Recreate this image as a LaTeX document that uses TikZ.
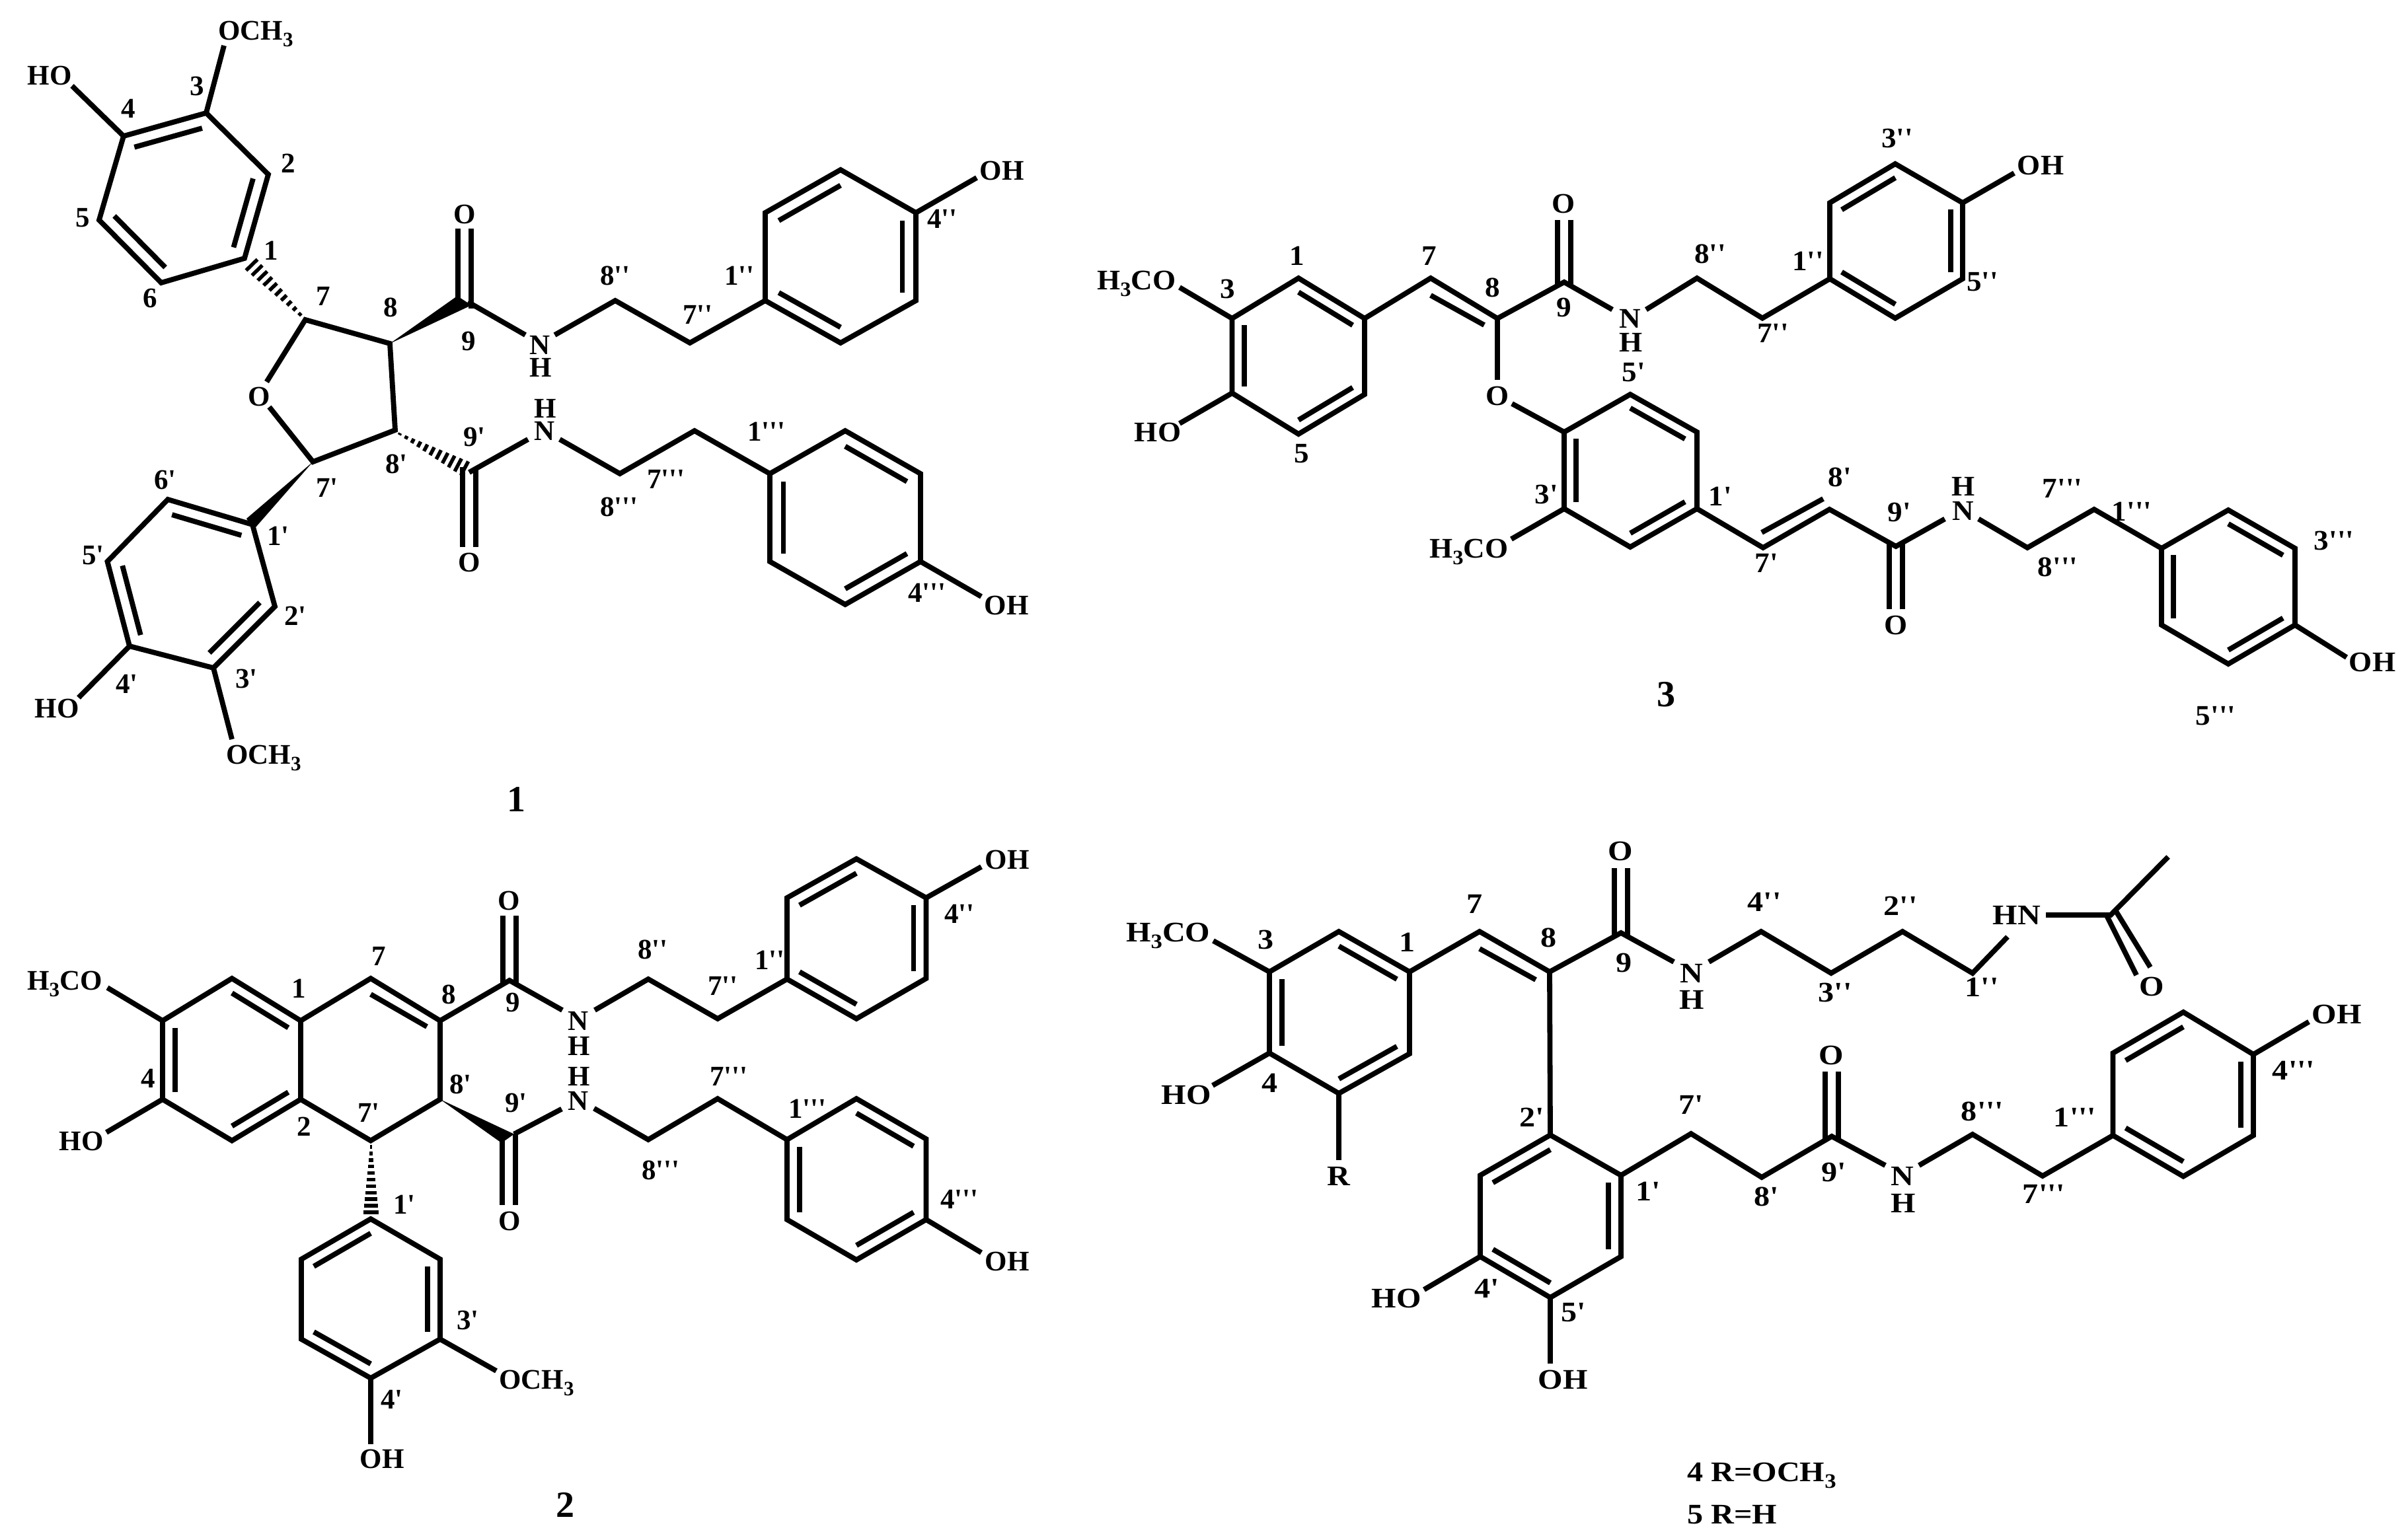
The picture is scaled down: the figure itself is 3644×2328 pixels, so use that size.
\documentclass[tikz,border=0pt]{standalone}
\usepackage{fontspec}
\usepackage{tikz}
\usetikzlibrary{calc}
\newfontfamily\chemfont{Liberation Serif}
\newfontfamily\chemfontc{Liberation Serif}[FakeStretch=1.05]
\newfontfamily\chemfontd{Liberation Serif}[FakeStretch=1.12]
\newcommand{\subthree}{\raisebox{-10pt}{\fontsize{31}{31}\selectfont 3}}
\newcommand{\hashbond}[3]{%
  \foreach \hpos in {0,0.1,...,1.01}{%
    \pgfmathsetmacro{\hw}{1.5+(#3-1.5)*\hpos}
    \draw[line width=5.5pt] ($(#1)!\hpos!(#2)!\hw pt!90:(#2)$) -- ($(#1)!\hpos!(#2)!\hw pt!-90:(#2)$);
  }}
\begin{document}
\begin{tikzpicture}[
  x=1pt, y=-1pt,
  every node/.style={font=\chemfont\bfseries\fontsize{43}{43}\selectfont, text height=29pt, text depth=0pt, inner sep=0pt},
  bond/.style={line width=7.8pt},
  cobond/.style={line width=7.8pt, double, double distance=12pt, shorten <=-8pt},
  cpdno/.style={font=\chemfont\bfseries\fontsize{56}{56}\selectfont, text height=38pt}
]
\useasboundingbox (0,0) rectangle (3644,2328);

% compound 1
\coordinate (A1) at (370,391);
\coordinate (A2) at (406,264);
\coordinate (A3) at (312,171);
\coordinate (A4) at (187,206);
\coordinate (A5) at (150,333);
\coordinate (A6) at (244,428);
\coordinate (Ac) at (278,299);
\coordinate (A3e) at (339,69);
\coordinate (A4e) at (109,130);
\coordinate (A7) at (462,484);
\coordinate (A8) at (590,520);
\coordinate (A9) at (703,459);
\coordinate (A9o) at (703,346);
\coordinate (A9a) at (692,448);
\coordinate (A9b) at (713.5,462);
\coordinate (A9n) at (708,457);
\coordinate (Ahs) at (381,401);
\coordinate (Anl) at (795,507);
\coordinate (Anr) at (839.5,507);
\coordinate (A8pp) at (931,455);
\coordinate (A7pp) at (1044,519);
\coordinate (A1pp) at (1158,455);
\coordinate (A2pp) at (1158,322);
\coordinate (A3pp) at (1272,257);
\coordinate (A4pp) at (1386,322);
\coordinate (A5pp) at (1386,455);
\coordinate (A6pp) at (1272,519);
\coordinate (Acpp) at (1272,388);
\coordinate (A4ppe) at (1478,269);
\coordinate (Aoa) at (403.5,578);
\coordinate (Aob) at (407.5,616);
\coordinate (A7p) at (473.6,699);
\coordinate (A8p) at (598,651);
\coordinate (A1p) at (382,794);
\coordinate (A1pa) at (373,785);
\coordinate (A1pb) at (383.5,802);
\coordinate (A2p) at (416,918);
\coordinate (A3p) at (323,1011);
\coordinate (A4p) at (196,978);
\coordinate (A5p) at (162.5,850);
\coordinate (A6p) at (254,756);
\coordinate (Acp) at (289,884.5);
\coordinate (A3pe) at (351,1119);
\coordinate (A4pe) at (119,1056);
\coordinate (A9p) at (710,715);
\coordinate (A9po) at (710,828);
\coordinate (Ahp) at (605,657);
\coordinate (Aqp) at (703,709);
\coordinate (Anlp) at (799,665);
\coordinate (Anrp) at (847,665);
\coordinate (A8t) at (938,717);
\coordinate (A7t) at (1051,652);
\coordinate (A1t) at (1165,717);
\coordinate (A2t) at (1279,652);
\coordinate (A3t) at (1393,717);
\coordinate (A4t) at (1393,850);
\coordinate (A5t) at (1279,915);
\coordinate (A6t) at (1165,850);
\coordinate (Act) at (1279,783);
\coordinate (A4te) at (1485,903);

\draw[cobond] (A9) -- (A9o);
\draw[cobond] (A9p) -- (A9po);
\draw[bond] (A1) -- (A2) -- (A3) -- (A4) -- (A5) -- (A6) -- cycle;
\draw[bond] (A3) -- (A3e);
\draw[bond] (A4) -- (A4e);
\foreach \p/\q in {A4/A3,A2/A1,A5/A6} \draw[bond] ($(\p)!.18!(Ac)$) -- ($(\q)!.18!(Ac)$);
\hashbond{A7}{Ahs}{12}
\draw[bond] (Aoa) -- (A7) -- (A8) -- (A8p) -- (A7p) -- (Aob);
\fill (A8) -- (A9a) -- (A9b) -- cycle;
\draw[bond] (A9n) -- (Anl);
\draw[bond] (Anr) -- (A8pp) -- (A7pp) -- (A1pp);
\draw[bond] (A1pp) -- (A2pp) -- (A3pp) -- (A4pp) -- (A5pp) -- (A6pp) -- cycle;
\draw[bond] (A4pp) -- (A4ppe);
\foreach \p/\q in {A2pp/A3pp,A4pp/A5pp,A1pp/A6pp} \draw[bond] ($(\p)!.18!(Acpp)$) -- ($(\q)!.18!(Acpp)$);
\fill (A7p) -- (A1pa) -- (A1pb) -- cycle;
\draw[bond] (A1p) -- (A2p) -- (A3p) -- (A4p) -- (A5p) -- (A6p) -- cycle;
\draw[bond] (A3p) -- (A3pe);
\draw[bond] (A4p) -- (A4pe);
\foreach \p/\q in {A6p/A1p,A5p/A4p,A2p/A3p} \draw[bond] ($(\p)!.18!(Acp)$) -- ($(\q)!.18!(Acp)$);
\hashbond{Ahp}{Aqp}{12}
\draw[bond] (A9p) -- (Anlp);
\draw[bond] (Anrp) -- (A8t) -- (A7t) -- (A1t);
\draw[bond] (A1t) -- (A2t) -- (A3t) -- (A4t) -- (A5t) -- (A6t) -- cycle;
\draw[bond] (A4t) -- (A4te);
\foreach \p/\q in {A2t/A3t,A1t/A6t,A4t/A5t} \draw[bond] ($(\p)!.18!(Act)$) -- ($(\q)!.18!(Act)$);

\node (Alb3) at (298,130) {3};
\node (Alb4) at (194,164) {4};
\node (Alb2) at (436,247) {2};
\node (Alb1) at (410,379) {1};
\node (Alb5) at (125,329) {5};
\node (Alb6) at (227,451) {6};
\node (Alb7) at (489,448) {7};
\node (Alb8) at (591,465) {8};
\node (Alb9) at (709,516) {9};
\node (Aome) [anchor=west] at (330,46) {OCH\subthree};
\node (Ahoa) at (75,114) {HO};
\node (Aoa1) at (703,324) {O};
\node (Ana) at (817,522) {N};
\node (Aha) at (818,556) {H};
\node (Alb8pp) at (931,417) {8''};
\node (Alb7pp) at (1056,476) {7''};
\node (Alb1pp) at (1119,417) {1''};
\node (Alb4pp) at (1426,331) {4''};
\node (Aoha) at (1516,258) {OH};
\node (Aring) at (392,600) {O};
\node (Alb6p) at (250,726) {6'};
\node (Alb5p) at (141,840) {5'};
\node (Alb1p) at (421,811) {1'};
\node (Alb7p) at (495,738) {7'};
\node (Alb8p) at (600,702) {8'};
\node (Alb9p) at (718,661) {9'};
\node (Alb2p) at (447,932) {2'};
\node (Alb3p) at (373,1027) {3'};
\node (Alb4p) at (192,1035) {4'};
\node (Ahob) at (86,1072) {HO};
\node (Aomb) [anchor=west] at (342,1142) {OCH\subthree};
\node (Ahb) at (825,618) {H};
\node (Anb) at (824,652) {N};
\node (Aob1) at (710,851) {O};
\node (Alb8t) at (937,767) {8'''};
\node (Alb7t) at (1008,725) {7'''};
\node (Alb1t) at (1160,653) {1'''};
\node (Alb4t) at (1403,897) {4'''};
\node (Aohb) at (1523,916) {OH};
\node[cpdno] (Ano) at (781,1209) {1};

% compound 2
\coordinate (Ba) at (246,1545);
\coordinate (Bb) at (351,1481);
\coordinate (Bd) at (455,1545);
\coordinate (Be) at (455,1664);
\coordinate (Bf) at (351,1726.5);
\coordinate (Bg) at (246,1664);
\coordinate (Bc) at (351,1604);
\coordinate (Bae) at (162.5,1495);
\coordinate (Bge) at (161,1714);
\coordinate (B7) at (561,1481);
\coordinate (B8) at (666,1545);
\coordinate (B8p) at (666,1664);
\coordinate (B7p) at (561,1726.5);
\coordinate (B7i) at (561,1505);
\coordinate (B8i) at (646,1554);
\coordinate (B9) at (771,1484);
\coordinate (B9o) at (771,1386);
\coordinate (Bnl) at (851,1529);
\coordinate (Bnr) at (900,1529);
\coordinate (B8pp) at (981,1482);
\coordinate (B7pp) at (1086,1542);
\coordinate (B1pp) at (1191,1482);
\coordinate (B2pp) at (1191,1359);
\coordinate (B3pp) at (1296,1300);
\coordinate (B4pp) at (1401.5,1359);
\coordinate (B5pp) at (1401.5,1481);
\coordinate (B6pp) at (1296,1542);
\coordinate (Bcpp) at (1296,1421);
\coordinate (B4ppe) at (1485,1312);
\coordinate (B9p) at (770,1724);
\coordinate (B9po) at (770,1824);
\coordinate (B9a) at (759,1730);
\coordinate (B9b) at (778,1716.6);
\coordinate (Bnlp) at (850,1678.6);
\coordinate (Bnrp) at (899,1677.7);
\coordinate (B8t) at (981,1725);
\coordinate (B7t) at (1086,1663);
\coordinate (B1t) at (1191,1725);
\coordinate (B2t) at (1296,1663);
\coordinate (B3t) at (1401.5,1724);
\coordinate (B4t) at (1401.5,1846);
\coordinate (B5t) at (1296,1907);
\coordinate (B6t) at (1191,1846);
\coordinate (Bct) at (1296,1785);
\coordinate (B4te) at (1485,1896);
\coordinate (Bhs) at (561,1736);
\coordinate (Bhe) at (561,1835);
\coordinate (B1p) at (561,1845);
\coordinate (B2p) at (666,1906);
\coordinate (B3p) at (666,2027);
\coordinate (B4p) at (561,2086);
\coordinate (B5p) at (456,2027);
\coordinate (B6p) at (456,1906);
\coordinate (Bcp) at (561,1966);
\coordinate (B3pe) at (751,2075);
\coordinate (B4pe) at (561,2186);

\draw[cobond] (B9) -- (B9o);
\draw[cobond] (B9p) -- (B9po);
\draw[bond] (Ba) -- (Bb) -- (Bd) -- (Be) -- (Bf) -- (Bg) -- cycle;
\draw[bond] (Ba) -- (Bae);
\draw[bond] (Bg) -- (Bge);
\foreach \p/\q in {Bb/Bd,Ba/Bg,Be/Bf} \draw[bond] ($(\p)!.18!(Bc)$) -- ($(\q)!.18!(Bc)$);
\draw[bond] (Bd) -- (B7) -- (B8) -- (B8p) -- (B7p) -- (Be);
\draw[bond] (B7i) -- (B8i);
\draw[bond] (B8) -- (B9) -- (Bnl);
\draw[bond] (Bnr) -- (B8pp) -- (B7pp) -- (B1pp);
\draw[bond] (B1pp) -- (B2pp) -- (B3pp) -- (B4pp) -- (B5pp) -- (B6pp) -- cycle;
\draw[bond] (B4pp) -- (B4ppe);
\foreach \p/\q in {B2pp/B3pp,B4pp/B5pp,B1pp/B6pp} \draw[bond] ($(\p)!.18!(Bcpp)$) -- ($(\q)!.18!(Bcpp)$);
\fill (B8p) -- (B9a) -- (B9b) -- cycle;
\draw[bond] (B9b) -- (Bnlp);
\draw[bond] (Bnrp) -- (B8t) -- (B7t) -- (B1t);
\draw[bond] (B1t) -- (B2t) -- (B3t) -- (B4t) -- (B5t) -- (B6t) -- cycle;
\draw[bond] (B4t) -- (B4te);
\foreach \p/\q in {B2t/B3t,B1t/B6t,B4t/B5t} \draw[bond] ($(\p)!.18!(Bct)$) -- ($(\q)!.18!(Bct)$);
\hashbond{Bhs}{Bhe}{11.5}
\draw[bond] (B1p) -- (B2p) -- (B3p) -- (B4p) -- (B5p) -- (B6p) -- cycle;
\draw[bond] (B3p) -- (B3pe);
\draw[bond] (B4p) -- (B4pe);
\foreach \p/\q in {B1p/B6p,B2p/B3p,B4p/B5p} \draw[bond] ($(\p)!.18!(Bcp)$) -- ($(\q)!.18!(Bcp)$);

\node (Bome) [anchor=west] at (41,1484) {H\subthree CO};
\node (Bhoa) at (123,1727) {HO};
\node (Blb1) at (452,1496) {1};
\node (Blb2) at (460,1705) {2};
\node (Blb4) at (224,1632) {4};
\node (Blb7) at (573,1447) {7};
\node (Blb8) at (679,1505) {8};
\node (Blb9) at (776,1517) {9};
\node (Blb8p) at (697,1641) {8'};
\node (Blb9p) at (781,1669) {9'};
\node (Blb7p) at (558,1684) {7'};
\node (Blb1p) at (612,1823) {1'};
\node (Blb3p) at (708,1998) {3'};
\node (Blb4p) at (593,2118) {4'};
\node (Boa) at (770,1363) {O};
\node (Boc) at (771,1848) {O};
\node (Bna) at (875,1545) {N};
\node (Bha) at (876,1583) {H};
\node (Bhb) at (876,1629) {H};
\node (Bnb) at (875,1666) {N};
\node (Blb8pp) at (988,1437) {8''};
\node (Blb7pp) at (1094,1492) {7''};
\node (Blb1pp) at (1165,1453) {1''};
\node (Blb4pp) at (1452,1383) {4''};
\node (Boha) at (1524,1301) {OH};
\node (Blb7t) at (1103,1629) {7'''};
\node (Blb1t) at (1222,1678) {1'''};
\node (Blb8t) at (1000,1771) {8'''};
\node (Blb4t) at (1452,1815) {4'''};
\node (Bohb) at (1524,1909) {OH};
\node (Bomb) [anchor=west] at (755,2088) {OCH\subthree};
\node (Bohc) at (578,2208) {OH};
\node[cpdno] (Bno) at (855,2277) {2};

% compound 3
\coordinate (C1) at (1965,421);
\coordinate (C2) at (2065,482);
\coordinate (C5a) at (2065,597);
\coordinate (C6) at (1965,657);
\coordinate (C4) at (1864.5,595);
\coordinate (C3) at (1864.5,482);
\coordinate (Cc) at (1965,539);
\coordinate (C3e) at (1785,435);
\coordinate (C4e) at (1785,641);
\coordinate (C7) at (2165,421);
\coordinate (C8) at (2266,482);
\coordinate (C7i) at (2165,447);
\coordinate (C8i) at (2246,492);
\coordinate (C9) at (2367,427);
\coordinate (C9o) at (2367,333);
\coordinate (Cnl) at (2440,468.6);
\coordinate (Cnr) at (2491,468.6);
\coordinate (C8pp) at (2568,421);
\coordinate (C7pp) at (2667,481.6);
\coordinate (C1pp) at (2769,422);
\coordinate (C2pp) at (2769,307);
\coordinate (C3pp) at (2868,248);
\coordinate (C4pp) at (2970,307);
\coordinate (C5pp) at (2970,422);
\coordinate (C6pp) at (2868,481.6);
\coordinate (Ccpp) at (2869,365);
\coordinate (C4ppe) at (3048,262);
\coordinate (C8e) at (2266,575);
\coordinate (Coe) at (2288,611);
\coordinate (C4p) at (2367,654);
\coordinate (C5p) at (2467,597);
\coordinate (C6p) at (2568,654);
\coordinate (C1p) at (2568,770);
\coordinate (C2p) at (2467,828);
\coordinate (C3p) at (2367,770);
\coordinate (Ccp) at (2467.5,712);
\coordinate (C3pe) at (2287,816);
\coordinate (C7p) at (2668,829);
\coordinate (C8p) at (2768.5,771);
\coordinate (C7pi) at (2666,806);
\coordinate (C8pi) at (2759,755);
\coordinate (C9p) at (2869,827);
\coordinate (C9po) at (2869,922);
\coordinate (Cnlp) at (2943,785.5);
\coordinate (Cnrp) at (2994,785.5);
\coordinate (C8t) at (3068,829);
\coordinate (C7t) at (3169,771);
\coordinate (C1t) at (3271,830);
\coordinate (C2t) at (3372,772);
\coordinate (C3t) at (3473,830);
\coordinate (C4t) at (3473,946);
\coordinate (C5t) at (3372,1005);
\coordinate (C6t) at (3271,946);
\coordinate (Cct) at (3372,888);
\coordinate (C4te) at (3551,995);

\draw[cobond] (C9) -- (C9o);
\draw[cobond] (C9p) -- (C9po);
\draw[bond] (C1) -- (C2) -- (C5a) -- (C6) -- (C4) -- (C3) -- cycle;
\draw[bond] (C3) -- (C3e);
\draw[bond] (C4) -- (C4e);
\foreach \p/\q in {C1/C2,C3/C4,C5a/C6} \draw[bond] ($(\p)!.18!(Cc)$) -- ($(\q)!.18!(Cc)$);
\draw[bond] (C2) -- (C7) -- (C8) -- (C9) -- (Cnl);
\draw[bond] (C7i) -- (C8i);
\draw[bond] (C8) -- (C8e);
\draw[bond] (Cnr) -- (C8pp) -- (C7pp) -- (C1pp);
\draw[bond] (C1pp) -- (C2pp) -- (C3pp) -- (C4pp) -- (C5pp) -- (C6pp) -- cycle;
\draw[bond] (C4pp) -- (C4ppe);
\foreach \p/\q in {C2pp/C3pp,C4pp/C5pp,C1pp/C6pp} \draw[bond] ($(\p)!.18!(Ccpp)$) -- ($(\q)!.18!(Ccpp)$);
\draw[bond] (Coe) -- (C4p);
\draw[bond] (C4p) -- (C5p) -- (C6p) -- (C1p) -- (C2p) -- (C3p) -- cycle;
\draw[bond] (C3p) -- (C3pe);
\foreach \p/\q in {C5p/C6p,C4p/C3p,C1p/C2p} \draw[bond] ($(\p)!.18!(Ccp)$) -- ($(\q)!.18!(Ccp)$);
\draw[bond] (C1p) -- (C7p) -- (C8p) -- (C9p) -- (Cnlp);
\draw[bond] (C7pi) -- (C8pi);
\draw[bond] (Cnrp) -- (C8t) -- (C7t) -- (C1t);
\draw[bond] (C1t) -- (C2t) -- (C3t) -- (C4t) -- (C5t) -- (C6t) -- cycle;
\draw[bond] (C4t) -- (C4te);
\foreach \p/\q in {C2t/C3t,C1t/C6t,C4t/C5t} \draw[bond] ($(\p)!.18!(Cct)$) -- ($(\q)!.18!(Cct)$);

\begin{scope}[every node/.append style={font=\chemfontc\bfseries\fontsize{43}{43}\selectfont}]
\node (Come) [anchor=west] at (1660,424) {H\subthree CO};
\node (Choa) at (1752,654) {HO};
\node (Clb1) at (1963,387) {1};
\node (Clb3) at (1858,437) {3};
\node (Clb5) at (1970,686) {5};
\node (Clb7) at (2163,387) {7};
\node (Clb8) at (2259,435) {8};
\node (Clb9) at (2367,465) {9};
\node (Coa) at (2366,308) {O};
\node (Cna) at (2467,482) {N};
\node (Cha) at (2468,518) {H};
\node (Clb8pp) at (2588,384) {8''};
\node (Clb7pp) at (2683,504) {7''};
\node (Clb1pp) at (2736,395) {1''};
\node (Clb3pp) at (2871,209) {3''};
\node (Clb5pp) at (3000,426) {5''};
\node (Coha) at (3088,250) {OH};
\node (Clb5p) at (2472,563) {5'};
\node (Coc) at (2266,599) {O};
\node (Clb3p) at (2340,748) {3'};
\node (Clb1p) at (2603,751) {1'};
\node (Clb8p) at (2784,722) {8'};
\node (Clb7p) at (2673,852) {7'};
\node (Clb9p) at (2874,775) {9'};
\node (Comb) [anchor=west] at (2163,830) {H\subthree CO};
\node (Cob) at (2869,946) {O};
\node (Chb) at (2971,736) {H};
\node (Cnb) at (2971,773) {N};
\node (Clb7t) at (3121,739) {7'''};
\node (Clb8t) at (3114,858) {8'''};
\node (Clb1t) at (3226,774) {1'''};
\node (Clb3t) at (3532,818) {3'''};
\node (Clb5t) at (3353,1083) {5'''};
\node (Cohb) at (3590,1002) {OH};
\node[cpdno] (Cno) at (2521,1050) {3};
\end{scope}

% compound 4, 5
\coordinate (D3) at (1921,1471);
\coordinate (D2) at (2026,1410);
\coordinate (D1) at (2133,1471);
\coordinate (D6) at (2133,1595);
\coordinate (D5) at (2026,1655);
\coordinate (D4) at (1921,1594);
\coordinate (Dc) at (2027,1533);
\coordinate (D3e) at (1836,1424);
\coordinate (D4e) at (1835,1643);
\coordinate (D5e) at (2026,1756);
\coordinate (D7) at (2239,1410);
\coordinate (D8) at (2345,1471);
\coordinate (D7i) at (2239,1436);
\coordinate (D8i) at (2324,1483);
\coordinate (D9) at (2453,1412);
\coordinate (D9o) at (2453,1314);
\coordinate (Dnl) at (2533,1456);
\coordinate (Dnr) at (2586,1456);
\coordinate (D4pp) at (2665,1410);
\coordinate (D3pp) at (2771,1473);
\coordinate (D2pp) at (2879,1410);
\coordinate (D1pp) at (2985,1473);
\coordinate (Dhne) at (3038,1418);
\coordinate (Dhnr) at (3096,1385);
\coordinate (Dac) at (3194,1385);
\coordinate (Dme) at (3281,1297);
\coordinate (Ddl) at (3188,1386);
\coordinate (Ddm) at (3233,1476);
\coordinate (Ddr) at (3202.5,1380);
\coordinate (Dds) at (3254,1464);
\coordinate (D2p) at (2346,1718);
\coordinate (D1p) at (2453,1779);
\coordinate (D6p) at (2453,1902);
\coordinate (D5p) at (2346,1964);
\coordinate (D4p) at (2240,1902);
\coordinate (D3p) at (2240,1779);
\coordinate (Dcp) at (2346.5,1841);
\coordinate (D4pe) at (2155,1952);
\coordinate (D5pe) at (2346,2064);
\coordinate (D7p) at (2559,1716);
\coordinate (D8p) at (2666,1782);
\coordinate (D9p) at (2772,1720);
\coordinate (D9po) at (2772,1622);
\coordinate (Dnlp) at (2853,1764);
\coordinate (Dnrp) at (2904,1764);
\coordinate (D8t) at (2985,1717);
\coordinate (D7t) at (3091,1780);
\coordinate (D1t) at (3197.5,1718.6);
\coordinate (D2t) at (3197.5,1594);
\coordinate (D3t) at (3304,1532);
\coordinate (D4t) at (3410,1596);
\coordinate (D5t) at (3410,1718.6);
\coordinate (D6t) at (3304,1780.6);
\coordinate (Dct) at (3304,1656);
\coordinate (D4te) at (3494,1546.6);

\draw[cobond] (D9) -- (D9o);
\draw[cobond] (D9p) -- (D9po);
\draw[bond] (D1) -- (D2) -- (D3) -- (D4) -- (D5) -- (D6) -- cycle;
\draw[bond] (D3) -- (D3e);
\draw[bond] (D4) -- (D4e);
\draw[bond] (D5) -- (D5e);
\foreach \p/\q in {D2/D1,D3/D4,D5/D6} \draw[bond] ($(\p)!.18!(Dc)$) -- ($(\q)!.18!(Dc)$);
\draw[bond] (D1) -- (D7) -- (D8) -- (D9) -- (Dnl);
\draw[bond] (D7i) -- (D8i);
\draw[bond] (D8) -- (D2p);
\draw[bond] (Dnr) -- (D4pp) -- (D3pp) -- (D2pp) -- (D1pp) -- (Dhne);
\draw[bond] (Dhnr) -- (Dac) -- (Dme);
\draw[bond] (Ddl) -- (Ddm);
\draw[bond] (Ddr) -- (Dds);
\draw[bond] (D2p) -- (D1p) -- (D6p) -- (D5p) -- (D4p) -- (D3p) -- cycle;
\draw[bond] (D4p) -- (D4pe);
\draw[bond] (D5p) -- (D5pe);
\foreach \p/\q in {D3p/D2p,D1p/D6p,D4p/D5p} \draw[bond] ($(\p)!.18!(Dcp)$) -- ($(\q)!.18!(Dcp)$);
\draw[bond] (D1p) -- (D7p) -- (D8p) -- (D9p) -- (Dnlp);
\draw[bond] (Dnrp) -- (D8t) -- (D7t) -- (D1t);
\draw[bond] (D1t) -- (D2t) -- (D3t) -- (D4t) -- (D5t) -- (D6t) -- cycle;
\draw[bond] (D4t) -- (D4te);
\foreach \p/\q in {D2t/D3t,D4t/D5t,D1t/D6t} \draw[bond] ($(\p)!.18!(Dct)$) -- ($(\q)!.18!(Dct)$);

\begin{scope}[every node/.append style={font=\chemfontd\bfseries\fontsize{43}{43}\selectfont}]
\node (Dome) [anchor=west] at (1704,1411) {H\subthree CO};
\node (Dhoa) at (1795,1657) {HO};
\node (Drr) at (2026,1780) {R};
\node (Dlb3) at (1916,1422) {3};
\node (Dlb1) at (2130,1426) {1};
\node (Dlb7) at (2232,1368) {7};
\node (Dlb8) at (2344,1419) {8};
\node (Dlb9) at (2458,1457) {9};
\node (Dlb4) at (1922,1639) {4};
\node (Doa) at (2452,1288) {O};
\node (Dna) at (2560,1473) {N};
\node (Dha) at (2560,1513) {H};
\node (Dlb4pp) at (2670,1365) {4''};
\node (Dlb3pp) at (2777,1502) {3''};
\node (Dlb2pp) at (2876,1371) {2''};
\node (Dlb1pp) at (2999,1494) {1''};
\node (Dhn) at (3052,1385) {HN};
\node (Dob) at (3256,1493) {O};
\node (Dlb2p) at (2318,1691) {2'};
\node (Dlb7p) at (2559,1672) {7'};
\node (Dlb1p) at (2494,1803) {1'};
\node (Dlb8p) at (2673,1811) {8'};
\node (Dlb9p) at (2775,1774) {9'};
\node (Dlb4p) at (2250,1950) {4'};
\node (Dlb5p) at (2381,1986) {5'};
\node (Dhob) at (2113,1965) {HO};
\node (Dohb) at (2365,2088) {OH};
\node (Doc) at (2771,1597) {O};
\node (Dnb) at (2879,1780) {N};
\node (Dhb) at (2880,1821) {H};
\node (Dlb8t) at (3000,1682) {8'''};
\node (Dlb7t) at (3093,1807) {7'''};
\node (Dlb1t) at (3140,1691) {1'''};
\node (Dlb4t) at (3471,1620) {4'''};
\node (Dohc) at (3536,1535) {OH};
\node (Dcapa) [anchor=west] at (2553,2228) {4 R=OCH\subthree};
\node (Dcapb) [anchor=west] at (2553,2292) {5 R=H};
\end{scope}
\end{tikzpicture}
\end{document}
